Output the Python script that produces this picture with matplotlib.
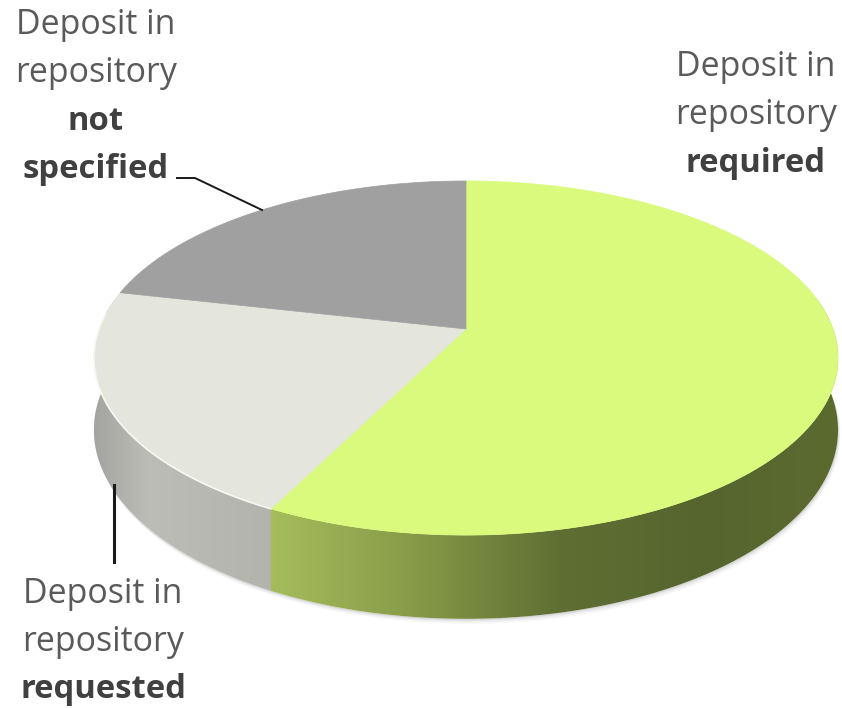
#!/usr/bin/env python
import numpy as np
from matplotlib import pyplot as plt
from matplotlib.colors import LinearSegmentedColormap
from matplotlib.patches import Polygon

# slices, clockwise from the top of the pie
categories = ['required', 'requested', 'not specified']
shares = [57.5, 21.0, 21.5]
top_colors = ['#d9fa7c', '#e4e5dd', '#a0a0a0']

label_lines = [
    ['Deposit in', 'repository', 'required'],
    ['Deposit in', 'repository', 'requested'],
    ['Deposit in', 'repository', 'not', 'specified'],
]
label_x = [756, 103, 96]
label_y = [67, 594, 25]
bold_from = [2, 2, 2]

# side shading, left to right across the picture
green_side = [(272, '#a6bd5c'), (400, '#8b9e4a'), (560, '#5f6f33'), (700, '#56652e'), (838, '#5b6b30')]
grey_side = [(95, '#a2a39e'), (150, '#bcbdb7'), (272, '#b2b3ad')]
side_stops = [green_side, grey_side, grey_side]

W, H = 842, 708
cx, cy = 466.0, 329.0
R, V, K = 367.0, 172.3, 0.164
DEPTH = 70.0


def project(deg):
    # perspective view of the unit circle, deg clockwise from the top
    a = np.radians(deg)
    w = 1 + K * np.cos(a)
    return cx + R * np.sin(a) / w, cy - V * np.cos(a) / w, w


def rim(d0, d1):
    x, y, w = project(np.linspace(d0, d1, 200))
    return np.column_stack([x, y]), np.column_stack([x, y + DEPTH / w])


def shade_side(ax, d0, d1, stops):
    upper, lower = rim(d0, d1)
    poly = Polygon(np.vstack([upper, lower[::-1]]), closed=True, transform=ax.transData,
                   fc='none', ec='none')
    ax.add_patch(poly)
    xs = [s[0] for s in stops]
    x0, x1 = min(xs), max(xs)
    cmap = LinearSegmentedColormap.from_list(
        'side', [((x - x0) / (x1 - x0), c) for x, c in stops])
    grad = np.linspace(0, 1, 256).reshape(1, -1)
    # a little wider than the slice so the clip edge has no white seam
    im = ax.imshow(grad, cmap=cmap, extent=[x0 - 4, x1 + 4, 640, 300], aspect='auto', zorder=2)
    im.set_clip_path(poly)


fig = plt.figure(figsize=(W / 100, H / 100), dpi=100)
ax = fig.add_axes([0, 0, 1, 1])

# soft shadow below the front rim
_, shadow = rim(90, 270)
for off, alpha in zip([5, 3.5, 2, 1], [0.04, 0.06, 0.08, 0.10]):
    ax.add_patch(Polygon(np.vstack([shadow + [off * 0.5, off], shadow[::-1]]), closed=True,
                         fc='#555555', ec='none', alpha=alpha, zorder=1))

edges = np.cumsum([0] + shares) * 3.6
for i in [1, 2]:
    shade_side(ax, edges[i] - 1.0, edges[i + 1], side_stops[i])
shade_side(ax, edges[0], edges[1], side_stops[0])

for i, c in enumerate(top_colors):
    upper, _ = rim(edges[i], edges[i + 1])
    pts = np.vstack([[cx, cy], upper])
    ax.add_patch(Polygon(pts, closed=True, fc=c, ec=c, lw=0.5, zorder=3))

# bright rim along the front edge of the grey slice
upper, _ = rim(edges[1], 275)
ax.plot(upper[:, 0], upper[:, 1], color='#f8f8f2', lw=1.2, zorder=4)

# leader lines
ax.plot([177, 195, 262], [178, 178, 210], color='#1a1a1a', lw=1.4, zorder=5)
ax.plot([114, 114], [485, 562], color='#1a1a1a', lw=2.2, zorder=5)

for lines, x, y0, b in zip(label_lines, label_x, label_y, bold_from):
    for j, line in enumerate(lines):
        bold = j >= b
        ax.text(x, y0 + j * 48, line, ha='center', va='center', family='Open Sans',
                fontsize=23.6 if bold else 24.4, fontweight='bold' if bold else 'normal',
                color='#404040' if bold else '#5a5a5a', zorder=6)

ax.set_xlim(0, W)
ax.set_ylim(H, 0)
ax.axis('off')
fig.savefig('out.png', dpi=100)
